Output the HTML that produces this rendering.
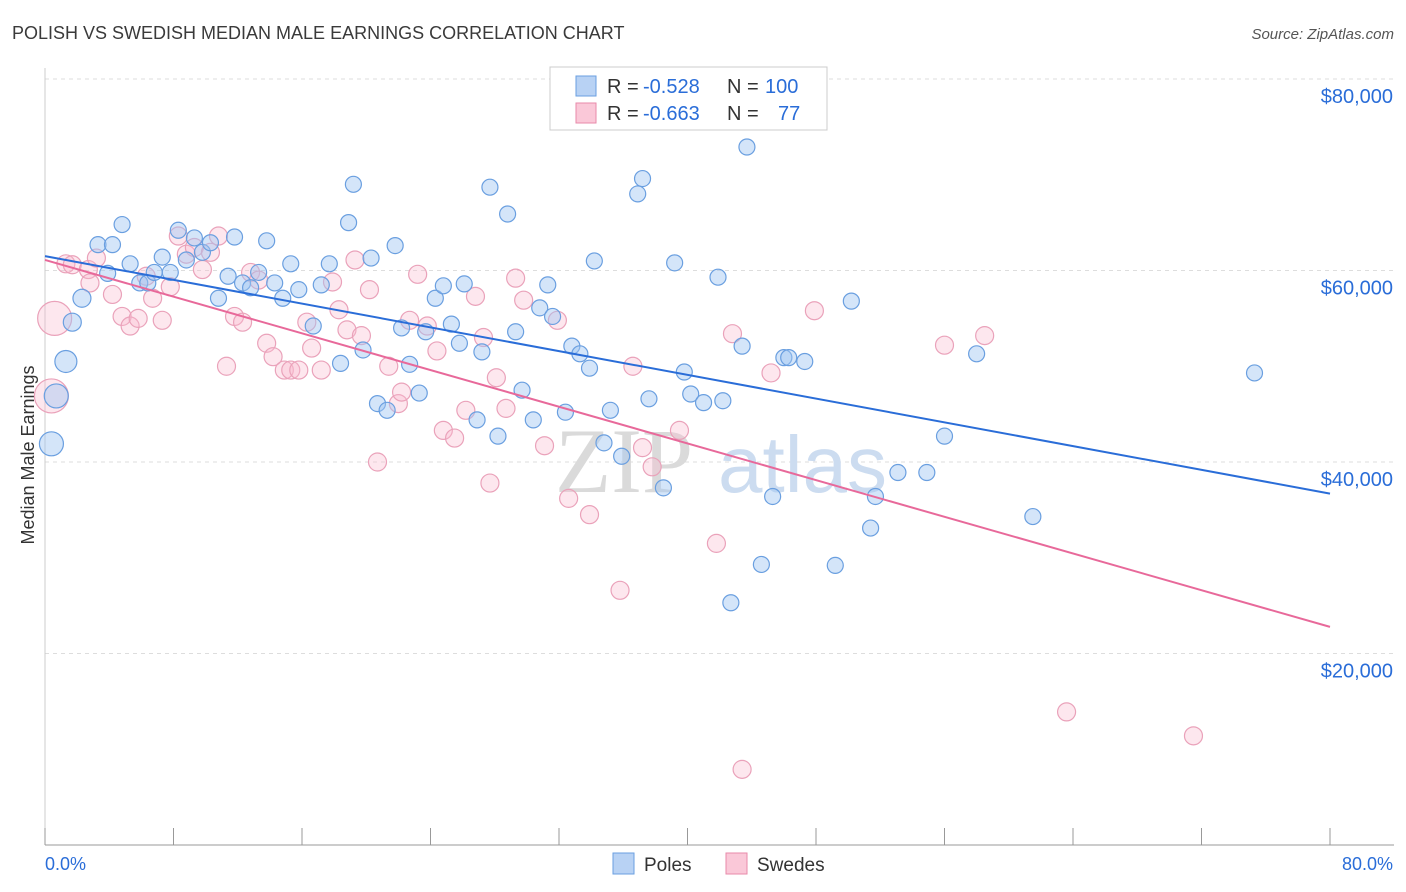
<!DOCTYPE html>
<html><head><meta charset="utf-8"><style>
body{margin:0;background:#fff;font-family:"Liberation Sans",sans-serif;}
svg{display:block}
</style></head><body>
<svg id="chart" width="1406" height="892" font-family="Liberation Sans, sans-serif">
<text x="12" y="39" font-size="18" fill="#3a3a3a">POLISH VS SWEDISH MEDIAN MALE EARNINGS CORRELATION CHART</text>
<text x="1394" y="39" font-size="15" fill="#555" font-style="italic" text-anchor="end">Source: ZipAtlas.com</text>
<text x="34" y="455" font-size="18" fill="#333" text-anchor="middle" transform="rotate(-90 34 455)">Median Male Earnings</text>
<g id="grid"></g>
<g id="watermark"><text x="555" y="492" font-size="92" fill="#dadada" font-family="Liberation Serif, serif">ZIP</text><text x="718" y="492" font-size="80" fill="#ccdcf0">atlas</text></g>
<g id="pts"></g>
<g id="lines"></g>
<g>
<rect x="550" y="67" width="277" height="63" fill="#fff" stroke="#ccc"/>
<rect x="576" y="76" width="20" height="20" fill="#b8d2f4" stroke="#6a9fe0"/>
<rect x="576" y="103" width="20" height="20" fill="#fac8d8" stroke="#e88aaa"/>
<text x="607" y="93" font-size="20" fill="#333">R =</text>
<text x="643" y="93" font-size="20" fill="#2a6dd8">-0.528</text>
<text x="727" y="93" font-size="20" fill="#333">N =</text>
<text x="765" y="93" font-size="20" fill="#2a6dd8">100</text>
<text x="607" y="120" font-size="20" fill="#333">R =</text>
<text x="643" y="120" font-size="20" fill="#2a6dd8">-0.663</text>
<text x="727" y="120" font-size="20" fill="#333">N =</text>
<text x="778" y="120" font-size="20" fill="#2a6dd8">77</text>
</g>
<g>
<rect x="613" y="853" width="21" height="21" fill="#b8d2f4" stroke="#6a9fe0"/>
<text x="644" y="871" font-size="19" fill="#333">Poles</text>
<rect x="726" y="853" width="21" height="21" fill="#fac8d8" stroke="#e88aaa"/>
<text x="757" y="871" font-size="19" fill="#333">Swedes</text>
</g>
<text x="45" y="870" font-size="18" fill="#2a6dd8">0.0%</text>
<text x="1393" y="870" font-size="18" fill="#2a6dd8" text-anchor="end">80.0%</text>
</svg>
<script>
const poleX=[0.4,0.7,1.3,1.7,2.3,3.3,4.2,4.8,3.9,5.3,5.9,6.4,6.8,7.3,7.8,8.3,8.8,9.3,9.8,10.3,10.8,11.4,11.8,12.3,12.8,13.3,13.8,14.3,14.8,15.3,15.8,16.7,17.2,17.7,18.4,18.9,19.2,19.8,20.3,20.7,21.3,21.8,22.2,22.7,23.3,23.7,24.3,24.8,25.3,25.8,26.1,26.9,27.2,27.7,28.2,28.8,29.3,29.7,30.4,30.8,31.3,31.6,32.4,32.8,33.3,33.9,34.2,34.8,35.2,35.9,36.9,37.2,37.6,38.5,39.2,39.8,40.2,41.0,41.9,42.2,42.7,43.4,43.7,44.6,45.3,46.0,46.3,47.3,49.2,50.2,51.4,51.7,53.1,54.9,56.0,58.0,61.5,75.3];
const poleY=[41.9,46.9,50.5,54.6,57.1,62.7,62.7,64.8,59.7,60.7,58.7,58.7,59.8,61.4,59.8,64.2,61.1,63.4,61.9,62.9,57.1,59.4,63.5,58.7,58.2,59.8,63.1,58.7,57.1,60.7,58.0,54.2,58.5,60.7,50.3,65.0,69.0,51.7,61.3,46.1,45.4,62.6,54.0,50.2,47.2,53.6,57.1,58.4,54.4,52.4,58.6,44.4,51.5,68.7,42.7,65.9,53.6,47.5,44.4,56.1,58.5,55.2,45.2,52.1,51.3,49.8,61.0,42.0,45.4,40.6,68.0,69.6,46.6,37.3,60.8,49.4,47.1,46.2,59.3,46.4,25.3,52.1,72.9,29.3,36.4,50.9,50.9,50.5,29.2,56.8,33.1,36.4,38.9,38.9,42.7,51.3,34.3,49.3];
const swedeX=[0.6,0.4,1.3,1.7,2.7,3.2,2.8,4.2,4.8,5.3,5.8,6.3,6.7,7.3,7.8,8.3,8.8,9.3,9.8,10.3,10.8,11.3,11.8,12.3,12.8,13.3,13.8,14.2,14.9,15.3,15.8,16.3,16.6,17.2,17.9,18.3,18.8,19.3,19.7,20.2,20.7,21.4,22.0,22.2,22.7,23.2,23.8,24.4,24.8,25.5,26.2,26.8,27.3,27.7,28.1,28.7,29.3,29.8,31.1,31.9,32.6,33.9,35.8,36.6,37.2,37.8,39.5,41.8,42.8,43.4,45.2,47.9,56.0,58.5,63.6,71.5];
const swedeY=[55.0,46.9,60.7,60.6,60.1,61.3,58.7,57.5,55.2,54.2,55.0,59.4,57.1,54.8,58.3,63.6,61.7,62.4,60.1,61.9,63.6,50.0,55.2,54.6,59.8,59.0,52.4,51.0,49.6,49.6,49.6,54.6,51.9,49.6,58.8,55.9,53.8,61.1,53.2,58.0,40.0,50.0,46.1,47.3,54.8,59.6,54.2,51.6,43.3,42.5,45.4,57.3,53.0,37.8,48.8,45.6,59.2,56.9,41.7,54.8,36.2,34.5,26.6,50.0,41.5,39.5,43.3,31.5,53.4,7.9,49.3,55.8,52.2,53.2,13.9,11.4];
const poleSize=[13,13,12,10,10,9,9,9,9,9,9,9,9,9,9,9,9,9,9,9,9,9,9,9,9,9,9,9,9,9,9,9,9,9,9,9,9,9,9,9,9,9,9,9,9,9,9,9,9,9,9,9,9,9,9,9,9,9,9,9,9,9,9,9,9,9,9,9,9,9,9,9,9,9,9,9,9,9,9,9,9,9,9,9,9,9,9,9,9,9,9,9,9,9,9,9,9,9];
const trendIntercept=[61.5,61.1];
const trendSlope=[-0.31,-0.479];
const yTicks=[20,40,60,80];
const yTickLabels=["$20,000","$40,000","$60,000","$80,000"];
const xTicks=[0,8,16,24,32,40,48,56,64,72,80];

const X0=45,X1=1330,Y0=845,PXK=9.575;
function sx(v){return X0+(v/80)*(X1-X0);}
function sy(v){return Y0-v*PXK;}
const NS="http://www.w3.org/2000/svg";
function mk(tag,attrs,parent){const e=document.createElementNS(NS,tag);for(const k in attrs)e.setAttribute(k,attrs[k]);parent.appendChild(e);return e;}
const grid=document.getElementById('grid');
yTicks.forEach((t,i)=>{
  const l=mk('line',{x1:X0,x2:1394,y1:sy(t),y2:sy(t),stroke:'#ddd','stroke-dasharray':'4,4'},grid);
  
  
  const tx=mk('text',{x:1393,y:sy(t)+24,'font-size':20,fill:'#2a6dd8','text-anchor':'end'},grid);
  tx.textContent=yTickLabels[i];
  
  
});
const ax=mk('line',{x1:X0,x2:1394,y1:Y0,y2:Y0,stroke:'#999'},grid);


const ay=mk('line',{x1:X0,x2:X0,y1:68,y2:Y0,stroke:'#ccc'},grid);


xTicks.forEach(t=>{
  const l=mk('line',{x1:sx(t),x2:sx(t),y1:828,y2:Y0,stroke:'#999'},grid);
  
  
});
const pts=document.getElementById('pts');
swedeX.forEach((x,i)=>{
  const r=i<2?17:9;
  const c=mk('circle',{cx:sx(x),cy:sy(swedeY[i]),r:r,fill:'rgba(248,185,205,0.35)',stroke:'#eaa2ba','stroke-width':1.2},pts);
  
  
});
poleX.forEach((x,i)=>{
  const c=mk('circle',{cx:sx(x),cy:sy(poleY[i]),r:(poleSize[i]||9)-1,fill:'rgba(160,198,242,0.45)',stroke:'#6a9fe0','stroke-width':1.2},pts);
  
  
});
const lines=document.getElementById('lines');
const colors=['#2a6dd8','#e8699a'];
trendIntercept.forEach((b,i)=>{
  const l=mk('line',{x1:sx(0),y1:sy(b),x2:sx(80),y2:sy(b+trendSlope[i]*80),stroke:colors[i],'stroke-width':2},lines);
  
  
});
</script>
</body></html>
